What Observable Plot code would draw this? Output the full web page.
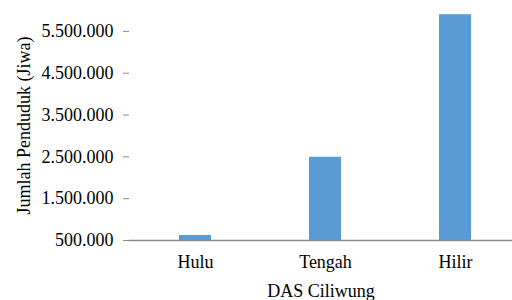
<!DOCTYPE html>
<html>
<head>
<meta charset="utf-8">
<script src="https://cdn.jsdelivr.net/npm/d3@7"></script>
<script src="https://cdn.jsdelivr.net/npm/@observablehq/plot@0.6"></script>
<style>
  html, body { margin: 0; padding: 0; background: #fff; overflow: hidden; width: 512px; height: 300px; }
  #chart svg { overflow: hidden; }
</style>
</head>
<body>
<div id="chart"></div>
<script>
const categories = ["Hulu", "Tengah", "Hilir"];
const values = [620000, 2490000, 5900000];
const yTicks = [500000, 1500000, 2500000, 3500000, 4500000, 5500000];
const xTitle = "DAS Ciliwung";
const yTitle = "Jumlah Penduduk (Jiwa)";

const data = categories.map((c, i) => ({ category: c, value: values[i] }));
const fmt = d3.formatLocale({ decimal: ",", thousands: ".", grouping: [3], currency: ["", ""] }).format(",d");
const axisColor = "#898989";
const fontName = "Liberation Serif";
const yMin = 500000, yMax = 6000000;

const chart = Plot.plot({
  width: 512,
  height: 300,
  marginLeft: 129,
  marginRight: 0,
  marginTop: 10,
  marginBottom: 60,
  style: { fontFamily: fontName, fontSize: "18px", color: "#000", background: "#fff" },
  x: { domain: categories, range: [129, 521], paddingInner: 0.755, paddingOuter: 0.3775, align: 0.5 },
  y: { domain: [yMin, yMax] },
  marks: [
    Plot.barY(data, { x: "category", y1: yMin, y2: "value", fill: "#5b9bd5" }),
    Plot.ruleY([yMin], { stroke: axisColor, strokeWidth: 1.3 }),
    Plot.ruleX([0], { frameAnchor: "left", y1: yMin, y2: yMax, stroke: axisColor, strokeWidth: 1.3 }),
    Plot.axisY({
      ticks: yTicks, tickFormat: fmt, tickSize: 6, tickPadding: 10, stroke: axisColor,
      fontFamily: fontName, fontSize: 18, label: yTitle, labelAnchor: "center", labelOffset: 112, labelArrow: "none"
    }),
    Plot.axisX({
      tickSize: 0, tickPadding: 15, fontFamily: fontName, fontSize: 18,
      label: xTitle, labelAnchor: "center", labelOffset: 56, labelArrow: "none"
    })
  ]
});
document.getElementById("chart").appendChild(chart);
</script>
</body>
</html>
